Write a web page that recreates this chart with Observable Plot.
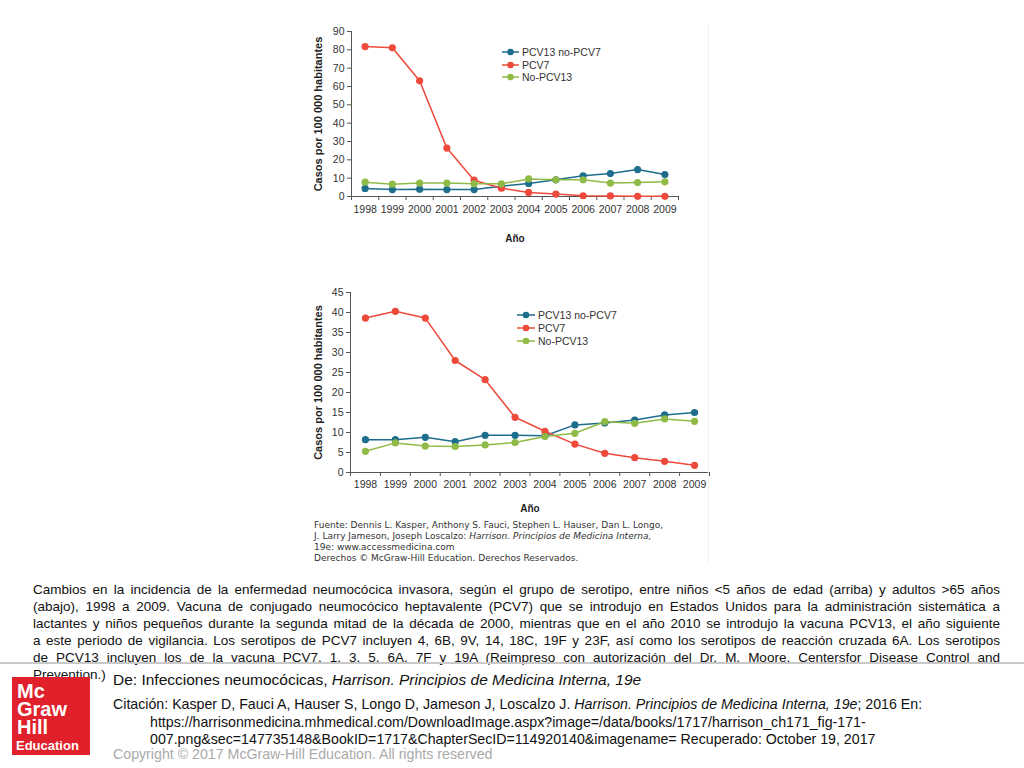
<!DOCTYPE html>
<html>
<head>
<meta charset="utf-8">
<script src="https://cdn.jsdelivr.net/npm/d3@7"></script>
<script src="https://cdn.jsdelivr.net/npm/@observablehq/plot@0.6"></script>
<style>
  html, body { margin: 0; padding: 0; background: #fff; }
  body { width: 1024px; height: 768px; position: relative; overflow: hidden; font-family: "Liberation Sans", Arial, sans-serif; color: #111; }
  .abs { position: absolute; }
  .legend { position: absolute; font-family: "Liberation Sans", Arial, sans-serif; font-size: 10.5px; color: #333; }
  .legend .row { display: flex; align-items: center; white-space: nowrap; }
  .legend svg { margin-right: 3px; }
  .source { position: absolute; left: 314px; top: 520px; font-family: "DejaVu Sans", Verdana, sans-serif; font-size: 9px; line-height: 11px; color: #333; white-space: nowrap; }
  .caption { position: absolute; left: 33px; width: 967px; top: 581px; font-size: 13.5px; line-height: 17px; color: #111; }
  .caption div { text-align: justify; text-align-last: justify; white-space: nowrap; }
  .caption div.last { text-align-last: left; }
  .cite { position: absolute; font-size: 14.2px; line-height: 16px; color: #111; white-space: nowrap; }
  .logo { position: absolute; left: 12px; top: 677px; width: 78px; height: 78px; background: #e0202a; color: #fff; font-weight: bold; }
  .logo .txt { position: absolute; left: 5px; top: 5px; font-size: 20px; line-height: 18px; }
  .logo .edu { display: block; font-size: 13px; line-height: 13px; margin-top: 3px; margin-left: -1px; }
</style>
</head>
<body>
<div id="top" class="abs" style="left:300px; top:20px;"></div>
<div id="bottom" class="abs" style="left:300px; top:280px;"></div>
<div class="abs" style="left:708px; top:25px; width:1px; height:540px; background:#f1f1f1;"></div>
<div id="legendTop" class="legend" style="left:502px; top:46px;"></div>
<div id="legendBottom" class="legend" style="left:517px; top:308px;"></div>

<div class="source">
  <div>Fuente: Dennis L. Kasper, Anthony S. Fauci, Stephen L. Hauser, Dan L. Longo,</div>
  <div>J. Larry Jameson, Joseph Loscalzo: <i>Harrison. Principios de Medicina Interna,</i></div>
  <div>19e: www.accessmedicina.com</div>
  <div>Derechos © McGraw-Hill Education. Derechos Reservados.</div>
</div>

<div class="caption">
  <div>Cambios en la incidencia de la enfermedad neumocócica invasora, según el grupo de serotipo, entre niños &lt;5 años de edad (arriba) y adultos &gt;65 años</div>
  <div>(abajo), 1998 a 2009. Vacuna de conjugado neumocócico heptavalente (PCV7) que se introdujo en Estados Unidos para la administración sistemática a</div>
  <div>lactantes y niños pequeños durante la segunda mitad de la década de 2000, mientras que en el año 2010 se introdujo la vacuna PCV13, el año siguiente</div>
  <div>a este periodo de vigilancia. Los serotipos de PCV7 incluyen 4, 6B, 9V, 14, 18C, 19F y 23F, así como los serotipos de reacción cruzada 6A. Los serotipos</div>
  <div>de PCV13 incluyen los de la vacuna PCV7, 1, 3, 5, 6A, 7F y 19A (Reimpreso con autorización del Dr. M. Moore, Centersfor Disease Control and</div>
  <div class="last">Prevention.)</div>
</div>
<div class="abs" style="left:0; top:662px; width:1024px; height:2px; background:#c8c8c8;"></div>

<div class="logo">
  <div class="txt">Mc<br>Graw<br>Hill<span class="edu">Education</span></div>
</div>
<div class="cite" style="left:113px; top:671px; font-size:15.5px; line-height:18px;">De: Infecciones neumocócicas, <i>Harrison. Principios de Medicina Interna, 19e</i></div>
<div class="cite" style="left:113px; top:696px;">Citación: Kasper D, Fauci A, Hauser S, Longo D, Jameson J, Loscalzo J. <i>Harrison. Principios de Medicina Interna, 19e</i>; 2016 En:</div>
<div class="cite" style="left:150px; top:714px;">https://harrisonmedicina.mhmedical.com/DownloadImage.aspx?image=/data/books/1717/harrison_ch171_fig-171-</div>
<div class="cite" style="left:150px; top:731px;">007.png&amp;sec=147735148&amp;BookID=1717&amp;ChapterSecID=114920140&amp;imagename= Recuperado: October 19, 2017</div>
<div class="cite" style="left:113px; top:746px; color:#aaa;">Copyright © 2017 McGraw-Hill Education. All rights reserved</div>

<script>
const years = [1998, 1999, 2000, 2001, 2002, 2003, 2004, 2005, 2006, 2007, 2008, 2009];
const seriesNames = ["PCV13 no-PCV7", "PCV7", "No-PCV13"];
const seriesColors = ["#1d6d8c", "#ee4a3b", "#8fba45"];

// Niños < 5 años (arriba)
const ninosPCV13noPCV7 = [4.4, 3.8, 4.0, 3.8, 3.8, 5.6, 7.1, 9.1, 11.3, 12.5, 14.7, 12.0];
const ninosPCV7        = [81.8, 81.1, 63.1, 26.4, 8.9, 4.5, 2.2, 1.3, 0.4, 0.3, 0.1, 0.1];
const ninosNoPCV13     = [7.8, 6.7, 7.3, 7.3, 6.9, 6.9, 9.6, 9.1, 9.1, 7.3, 7.6, 8.0];

// Adultos > 65 años (abajo)
const adultosPCV13noPCV7 = [8.2, 8.2, 8.8, 7.7, 9.3, 9.3, 9.2, 11.9, 12.4, 13.1, 14.4, 15.0];
const adultosPCV7        = [38.6, 40.3, 38.6, 28.0, 23.2, 13.8, 10.3, 7.1, 4.8, 3.7, 2.8, 1.8];
const adultosNoPCV13     = [5.3, 7.4, 6.6, 6.5, 6.9, 7.5, 9.0, 9.8, 12.7, 12.3, 13.4, 12.8];

const yTicksTop = [0, 10, 20, 30, 40, 50, 60, 70, 80, 90];
const yTicksBottom = [0, 5, 10, 15, 20, 25, 30, 35, 40, 45];
const xTitle = "Año";
const yTitle = "Casos por 100 000 habitantes";

function toLong(arrays) {
  const out = [];
  arrays.forEach((vals, i) => vals.forEach((v, j) => out.push({year: years[j], value: v, serie: seriesNames[i]})));
  return out;
}

const boundaries = [...years.map(y => y - 0.5), years[years.length - 1] + 0.5];

function chart(data, yTicks, o) {
  return Plot.plot({
    width: o.width, height: o.height,
    marginLeft: o.ml, marginRight: o.mr, marginTop: o.mt, marginBottom: o.mb,
    style: {fontFamily: "'Liberation Sans', Arial, sans-serif", fontSize: "10.5px", color: "#333", background: "transparent", overflow: "visible"},
    x: {domain: [boundaries[0], boundaries[boundaries.length - 1]], label: null},
    y: {domain: [yTicks[0], yTicks[yTicks.length - 1]], label: null},
    color: {domain: seriesNames, range: seriesColors},
    marks: [
      Plot.ruleY([yTicks[0]], {stroke: "#555", strokeWidth: 1}),
      Plot.ruleX([boundaries[0]], {stroke: "#555", strokeWidth: 1}),
      Plot.axisY({ticks: yTicks, tickSize: 4, tickPadding: 3, label: null, stroke: "#555", fill: "#333"}),
      Plot.axisX({ticks: boundaries, tickSize: 4, tickFormat: () => "", label: null, stroke: "#555"}),
      Plot.axisX({ticks: years, tickSize: 0, tickPadding: o.xpad, tickFormat: d => String(d), label: null, fill: "#333"}),
      Plot.line(data, {x: "year", y: "value", stroke: "serie", z: "serie", strokeWidth: 1.5}),
      Plot.dot(data, {x: "year", y: "value", fill: "serie", r: 3.6}),
      Plot.text([xTitle], {text: d => d, frameAnchor: "bottom", textAnchor: "middle", dy: o.xtitle, fontWeight: "bold", fontSize: 10, fill: "#222"}),
      Plot.text([yTitle], {text: d => d, frameAnchor: "left", textAnchor: "middle", rotate: -90, dx: o.ytitle, fontWeight: "bold", fontSize: 11, fill: "#222"})
    ]
  });
}

document.getElementById("top").append(chart(
  toLong([ninosPCV13noPCV7, ninosPCV7, ninosNoPCV13]), yTicksTop,
  {width: 415, height: 230, ml: 51, mr: 37, mt: 11, mb: 54, xpad: 9, xtitle: 45, ytitle: -33}
));
document.getElementById("bottom").append(chart(
  toLong([adultosPCV13noPCV7, adultosPCV7, adultosNoPCV13]), yTicksBottom,
  {width: 420, height: 240, ml: 50, mr: 11, mt: 12, mb: 48, xpad: 8, xtitle: 39, ytitle: -32}
));

function legend(el, lineW, rowH) {
  seriesNames.forEach((name, i) => {
    const row = document.createElement("div");
    row.className = "row";
    row.style.height = rowH + "px";
    const c = seriesColors[i];
    row.innerHTML = `<svg width="${lineW}" height="10"><line x1="0" x2="${lineW}" y1="5" y2="5" stroke="${c}" stroke-width="1.5"/><circle cx="${lineW / 2}" cy="5" r="3.3" fill="${c}"/></svg><span>${name}</span>`;
    el.append(row);
  });
}
legend(document.getElementById("legendTop"), 17, 12.5);
legend(document.getElementById("legendBottom"), 18, 13);
</script>
</body>
</html>
